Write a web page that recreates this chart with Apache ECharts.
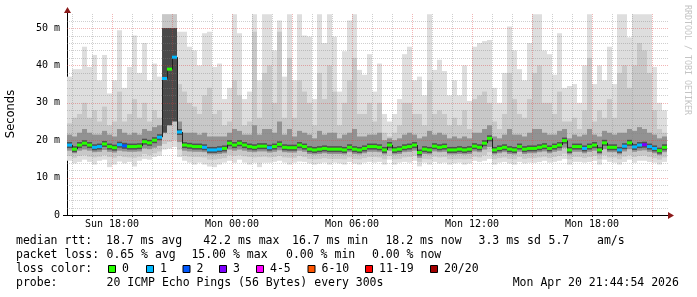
<!DOCTYPE html>
<html><head><meta charset="utf-8">
<script src="https://cdn.jsdelivr.net/npm/echarts@6/dist/echarts.min.js"></script>
<style>html,body{margin:0;padding:0;background:#fff}#c{width:697px;height:297px}</style>
</head><body><div id="c"></div>
<script>
// ---- time base: 15-minute columns starting Sun 15:45 (hours since Sun 00:00)
const hourStart = 15.75;
const colHours = 0.25;
const xTickHours = [18, 24, 30, 36, 42];
const xTickLabels = ['Sun 18:00', 'Mon 00:00', 'Mon 06:00', 'Mon 12:00', 'Mon 18:00'];
const yTickValues = [0, 10, 20, 30, 40, 50];
const yTickLabels = ['0', '10 m', '20 m', '30 m', '40 m', '50 m'];

// ---- smoke envelope (ms) per column
const maxV = [
 37,39,39,45,39.6,42.8,36,42.8,32.5,36,
 49.4,34,39.6,48,38,46,36,40.5,37,53.7,
 53.7,53.7,49,49,45,44,40,48.6,49,39.6,
 40.5,31,34,53.7,48.6,31,33,53.7,36,53.7,
 53.7,44,52,37,53.7,36,53.7,48,47.7,31,
 53.7,46,53.7,47.7,33,43.8,52,53.7,38.8,37.5,
 43,33,40.5,27,25,27,31,43,45,36,
 37,32,53.7,38.8,41.5,38.5,32,36,32,40,
 30.5,45,46,46.5,46.8,34,30,38,50.4,44,
 39,36,46,53.7,53.7,44,43,37.5,48.6,34,
 34.5,35,30,40,53.7,35,40,36,45,35,
 53.7,53.7,47.5,53.7,53.7,53.7,53.7,39.6,30,28];
const hiV = [
 24.5,26,27,30,26,28,25,29,24,25,
 33,25,27,31,26,30,25,28,26,53.7,
 53.7,53.7,35,33,30,29,27,32,34,27,
 28,24,25,36,32,24,25,49,26,38,
 40,30,49,26,42,26,36,33,30,24,
 38,31,40,33,24,30,36,42,27,27,
 30,25,30,22,21,22,24,30,30,27,
 27,24,36,27,28,27,24,26,24,28,
 23,31,32,33,30,25,23,27,38,31,
 27,26,31,38,40,30,30,27,33,25,
 25,26,23,28,42,25,28,26,31,26,
 38,40,34,40,46,44,38,28,23,22];
const q3V = [
 21.5,21,22,23,22,21.5,21.5,22.5,21.5,21,
 23,22,21.5,22,21.5,23,22.5,23.5,24,50,
 50,50,25,22,22,22,21.5,22,21,21,
 21,21,22,23,22.5,21.5,21.5,24,21.5,23,
 23,22,25,21.5,23,21,22.5,22,21.5,20.5,
 22.5,21.5,22,22,20.5,21.5,22,23,21,21,
 21.5,21.5,22,20,20.5,20,20.5,21.5,22,21.5,
 20.5,21,22.5,21.5,22,21.5,20.5,21,20.5,21,
 20.5,22,22,23,24,21,20.5,21.5,23,21.5,
 21.5,21,22,23,23,22,21.5,21.5,22.5,23,
 20.5,21.5,21,21.5,23,21.5,21,22.5,22,21.5,
 22,22,23,22.5,23.5,23,22,21.5,20.5,21];
const medianV = [
 18.7,17.6,18.7,19.2,18.7,18.1,18.3,19.0,18.3,18.0,
 18.8,18.5,18.3,18.3,18.4,19.6,19.3,20.0,20.8,36.5,
 39.0,42.2,22.2,18.7,18.5,18.3,18.3,18.1,17.4,17.4,
 17.6,17.8,19.2,18.7,19.2,18.7,18.3,18.1,18.4,18.4,
 18.0,18.3,18.9,18.1,18.0,18.0,18.7,18.3,17.6,17.4,
 17.6,17.8,17.6,17.6,17.6,17.4,18.1,17.6,17.4,17.8,
 18.3,18.3,18.1,17.4,18.7,17.4,17.6,18.1,18.3,18.7,
 16.7,17.6,17.4,18.4,18.1,18.3,17.4,17.4,17.6,17.4,
 17.6,18.4,18.1,19.2,20.5,17.4,17.8,18.1,17.6,17.4,
 18.3,17.6,17.8,17.8,18.1,18.4,17.8,18.3,18.7,19.9,
 17.4,18.3,18.3,17.8,18.3,18.7,17.4,19.3,18.1,18.1,
 17.4,18.4,19.3,18.2,18.7,18.8,18.3,17.8,17.2,18.1];
const q1V = [
 17.2,16.5,17.2,17.5,17.2,16.8,16.9,17.4,16.9,16.7,
 17.2,17,16.9,16.9,17,17.8,17.6,18,18.5,22,
 24,25,19.5,17.2,17,16.9,16.9,16.8,16.2,16.2,
 16.3,16.5,17.5,17.2,17.5,17.2,16.9,16.8,17,17,
 16.7,16.9,17.3,16.8,16.7,16.7,17.2,16.9,16.3,16.2,
 16.3,16.5,16.3,16.3,16.3,16.2,16.8,16.3,16.2,16.5,
 16.9,16.9,16.8,16.2,17.2,16.2,16.3,16.8,16.9,17.2,
 15.3,16.3,16.2,17,16.8,16.9,16.2,16.2,16.3,16.2,
 16.3,17,16.8,17.5,18.2,16.2,16.5,16.8,16.3,16.2,
 16.9,16.3,16.5,16.5,16.8,17,16.5,16.9,17.2,18,
 16.2,16.9,16.9,16.5,16.9,17.2,16.2,17.6,16.8,16.8,
 16.2,17,17.6,16.9,17.2,17.3,16.9,16.5,16,16.8];
const loV = [
 15.8,15.3,15.8,16,15.6,15.4,15.6,16,15.5,15.3,
 15.8,15.5,15.4,15.3,15.6,16.3,16,16.5,17,19,
 19.5,20,17.5,15.8,15.6,15.5,15.5,15.4,14.8,14.8,
 15,15.2,16,15.8,16,15.7,15.5,15.4,15.5,15.6,
 15.4,15.5,15.8,15.4,15.3,15.3,15.8,15.5,15,14.9,
 15,15.2,15,15,15,14.9,15.4,15,14.9,15.2,
 15.5,15.5,15.4,14.9,15.8,14.9,15,15.4,15.5,15.8,
 14.2,15,14.9,15.6,15.4,15.5,14.9,14.9,15,14.9,
 15,15.6,15.4,16,16.8,14.9,15.2,15.4,15,14.9,
 15.5,15,15.2,15.2,15.4,15.6,15.2,15.5,15.8,16.4,
 14.9,15.5,15.5,15.2,15.5,15.8,14.9,16,15.4,15.4,
 14.9,15.6,16,15.5,15.8,15.9,15.5,15.2,14.8,15.4];
const minV = [
 14.5,13.8,14.2,14.8,14.2,13.5,14.5,14.8,12.8,13.5,
 14.3,13.8,14.2,13,14.5,15,14.8,15.5,15.8,17.5,
 17.8,18.2,15.5,14.5,14,13.5,14,13.5,13,12.8,
 13.5,14,14.5,14,14.8,14,13.5,14,12.8,14,
 14,14.2,14.5,14,13.5,14,14.3,14.2,13.8,13.5,
 13.8,14,13.5,14,13.8,13.5,14.2,13.8,13.5,14,
 14.2,14,14.2,13.5,14.8,13.5,14,14.2,14,14.5,
 13,14,13.5,14.2,13.8,14,13.5,13.8,14,13.5,
 13.8,14.5,14.2,14.5,15,13.5,14,14.2,13.8,13.5,
 14.2,13.8,14,14,14.2,14.5,14,14.2,14.5,15,
 13.5,14.2,14.2,14,14.2,14.5,13.5,14.8,14.2,14,
 13.5,14.2,14.8,14,14.5,14.5,14.2,14,13.5,14.2];
// loss bucket per column (0 = 0 lost, 1 = 1, 2 = 2, 3 = 3, ...)
const lossV = [
 1,0,0,0,0,1,1,0,0,0,
 1,2,0,0,0,0,0,0,1,1,
 0,1,1,0,0,0,0,1,1,1,
 1,0,0,0,0,0,0,0,0,0,
 1,0,0,0,0,0,0,0,0,0,
 0,0,0,0,0,0,0,0,0,0,
 0,0,0,0,0,0,0,0,0,0,
 0,0,0,0,0,0,0,0,0,0,
 0,0,0,0,0,0,0,0,0,0,
 0,0,0,0,0,0,0,0,0,0,
 0,0,0,1,0,0,0,0,0,0,
 1,1,0,1,1,3,1,1,0,0];
const lossLabels = ['0', '1', '2', '3', '4-5', '6-10', '11-19', '20/20'];
const lossColors = ['#26ff00', '#00b8ff', '#0059ff', '#7e00ff', '#ff00ff', '#ff5500', '#ff0000', '#a10000'];

const gridHours = [];
for (let h = 16; h <= 45; h++) gridHours.push(h);
const gridMs = [];
for (let v = 2; v <= 52; v += 2) gridMs.push(v);

// ---- build series data
function band(lo, hi) {
  return medianV.map((_, i) => [hourStart + i * colHours, hourStart + (i + 1) * colHours, lo[i], hi[i]]);
}
function bandRender(color, wideColor) {
  return function (params, api) {
    const lo = api.value(2), hi = api.value(3);
    const a = api.coord([api.value(0), hi]);
    const b = api.coord([api.value(1), lo]);
    const fill = (wideColor && hi - lo > 10) ? wideColor : color;
    return { type: 'rect', shape: { x: a[0], y: a[1], width: b[0] - a[0], height: b[1] - a[1] }, style: { fill: fill } };
  };
}
const medData = medianV.map((m, i) => [hourStart + i * colHours, hourStart + (i + 1) * colHours, m, lossV[i], i > 0 ? medianV[i - 1] : m]);

const mono = '"DejaVu Sans Mono", monospace';
const chart = echarts.init(document.getElementById('c'), null, { renderer: 'canvas' });

const legendFont = '11.5px ' + mono;
function txt(s, x, y, align) {
  return { type: 'text', x: x, y: y, z: 10, style: { text: s, font: legendFont, fill: '#000', align: align || 'left', verticalAlign: 'middle' } };
}
const swatchX = [108, 146, 182.5, 219, 256, 307.5, 365, 430];
const graphics = [
  { type: 'text', x: 11, y: 114, rotation: Math.PI / 2, style: { text: 'Seconds', font: '11.5px "DejaVu Sans"', fill: '#000', align: 'center', verticalAlign: 'middle' } },
  { type: 'text', x: 687, y: 5, rotation: -Math.PI / 2, style: { text: 'RRDTOOL / TOBI OETIKER', font: '8.3px ' + mono, fill: '#c4c4c4', align: 'left', verticalAlign: 'middle' } },
  { type: 'line', shape: { x1: 67.5, y1: 14, x2: 67.5, y2: 12 }, style: { stroke: '#000', lineWidth: 1 } },
  { type: 'line', shape: { x1: 63, y1: 215.5, x2: 670, y2: 215.5 }, style: { stroke: '#000', lineWidth: 1 } },
  { type: 'polygon', shape: { points: [[64, 13], [67.5, 7], [71, 13]] }, style: { fill: '#8b1a1a' } },
  { type: 'polygon', shape: { points: [[668, 212], [674, 215.5], [668, 219]] }, style: { fill: '#8b1a1a' } },
  txt('median rtt:', 16, 241.5),
  txt('18.7 ms avg', 106, 241.5),
  txt('42.2 ms max', 203.3, 241.5),
  txt('16.7 ms min', 292, 241.5),
  txt('18.2 ms now', 385.4, 241.5),
  txt('3.3 ms sd', 478.5, 241.5),
  txt('5.7', 548.5, 241.5),
  txt('am/s', 597, 241.5),
  txt('packet loss:', 16, 255.5),
  txt('0.65 % avg', 106.5, 255.5),
  txt('15.00 % max', 191.4, 255.5),
  txt('0.00 % min', 286, 255.5),
  txt('0.00 % now', 372, 255.5),
  txt('loss color:', 16, 269.5),
  txt('probe:', 16, 283.5),
  txt('20 ICMP Echo Pings (56 Bytes) every 300s', 106.5, 283.5),
  txt('Mon Apr 20 21:44:54 2026', 512.7, 283.5)
];
lossLabels.forEach((lab, k) => {
  graphics.push({ type: 'rect', shape: { x: swatchX[k] + 0.5, y: 265.5, width: 7, height: 7 }, style: { fill: lossColors[k], stroke: '#000', lineWidth: 1 } });
  graphics.push(txt(lab, swatchX[k] + 14, 269.5));
});

const gridStyle = major => major ? 'rgba(220,60,60,0.38)' : 'rgba(128,128,128,0.38)';

const option = {
  animation: false,
  backgroundColor: '#ffffff',
  grid: { left: 67, right: 29, top: 14, bottom: 82 },
  xAxis: {
    type: 'value', min: hourStart, max: 45.8,
    axisLine: { show: false },
    axisTick: { show: true, customValues: gridHours, length: 2, inside: false, lineStyle: { color: '#000' } },
    splitLine: { show: false },
    axisLabel: {
      customValues: xTickHours, margin: 4,
      formatter: v => xTickLabels[xTickHours.indexOf(v)] || '',
      fontFamily: mono, fontSize: 10, color: '#000'
    }
  },
  yAxis: {
    type: 'value', min: 0, max: 53.75,
    axisLine: { show: true, onZero: false, lineStyle: { color: '#000', width: 1 } },
    axisTick: { show: false },
    splitLine: { show: false },
    axisLabel: {
      customValues: yTickValues, margin: 7,
      formatter: v => yTickLabels[yTickValues.indexOf(v)] || '',
      fontFamily: mono, fontSize: 10, color: '#000'
    }
  },
  series: [
    { type: 'custom', name: 'smoke-all', z: 2, silent: true, data: band(minV, maxV), encode: { x: [0, 1], y: [2, 3] }, renderItem: bandRender('#dedede') },
    { type: 'custom', name: 'smoke-mid', z: 2, silent: true, data: band(loV, hiV), encode: { x: [0, 1], y: [2, 3] }, renderItem: bandRender('#c8c8c8') },
    { type: 'custom', name: 'smoke-core', z: 2, silent: true, data: band(q1V, q3V), encode: { x: [0, 1], y: [2, 3] }, renderItem: bandRender('#929292', '#4a4a4a') },
    {
      type: 'custom', name: 'grid-x', z: 3, silent: true,
      data: gridHours.map(h => [h, 0, h % 3 === 0 ? 1 : 0]), encode: { x: 0, y: 1 },
      renderItem: function (params, api) {
        const cs = params.coordSys;
        const p = api.coord([api.value(0), 0]);
        const x = Math.round(p[0]) + 0.5;
        return { type: 'line', shape: { x1: x, y1: cs.y, x2: x, y2: cs.y + cs.height }, style: { stroke: gridStyle(api.value(2)), lineWidth: 1, lineDash: [1, 1] } };
      }
    },
    {
      type: 'custom', name: 'grid-y', z: 3, silent: true,
      data: gridMs.map(v => [hourStart, v, v % 10 === 0 ? 1 : 0]), encode: { x: 0, y: 1 },
      renderItem: function (params, api) {
        const cs = params.coordSys;
        const p = api.coord([hourStart, api.value(1)]);
        const y = Math.round(p[1]) + 0.5;
        return { type: 'line', shape: { x1: cs.x, y1: y, x2: cs.x + cs.width, y2: y }, style: { stroke: gridStyle(api.value(2)), lineWidth: 1, lineDash: [1, 1] } };
      }
    },
    {
      type: 'custom', name: 'median', z: 4, silent: true,
      data: medData, encode: { x: [0, 1], y: 2 },
      renderItem: function (params, api) {
        const x0 = api.value(0), x1 = api.value(1), m = api.value(2), loss = api.value(3), prev = api.value(4);
        const a = api.coord([x0, m]), b = api.coord([x1, m]);
        const w = b[0] - a[0];
        const children = [
          { type: 'rect', shape: { x: a[0], y: a[1] - 3, width: w, height: 6 }, style: { fill: '#505050' } }
        ];
        if (Math.abs(prev - m) > 1) {
          const p = api.coord([x0, prev]);
          children.push({ type: 'line', shape: { x1: a[0] + 0.5, y1: p[1], x2: a[0] + 0.5, y2: a[1] }, style: { stroke: '#222', lineWidth: 1 } });
        }
        children.push({ type: 'rect', shape: { x: a[0], y: a[1] - 1.5, width: w, height: 3 }, style: { fill: lossColors[loss] } });
        return { type: 'group', children: children };
      }
    }
  ],
  graphic: graphics
};
chart.setOption(option);
</script>
</body></html>
